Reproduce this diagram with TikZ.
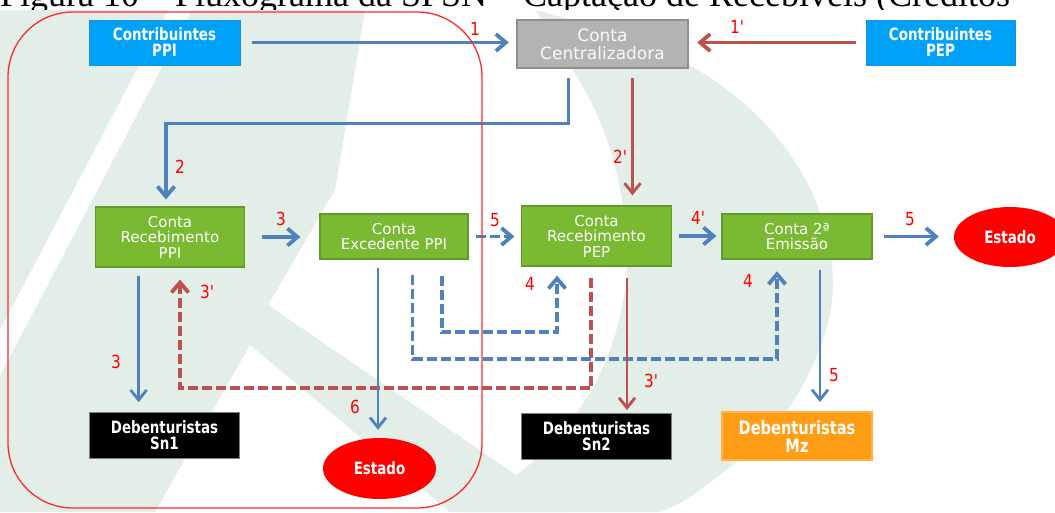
\documentclass[tikz,border=0pt]{standalone}
\usepackage{fontspec}
\usetikzlibrary{arrows.meta,shapes.geometric}
\newfontfamily\regfont{DejaVu Sans}
\newfontfamily\condfont[FakeStretch=0.79]{DejaVu Sans}
\newfontfamily\numfont[FakeStretch=0.85]{DejaVu Sans}
\newfontfamily\capfont{Liberation Serif}
\definecolor{flowblue}{HTML}{4F81BD}
\definecolor{flowred}{HTML}{C0504D}
\definecolor{numred}{HTML}{FF0000}
\definecolor{wmgreen}{RGB}{226,238,231}
\definecolor{boxblue}{HTML}{00A2F8}
\definecolor{boxblueline}{HTML}{1C8FDB}
\definecolor{boxgray}{HTML}{B3B3B3}
\definecolor{boxgrayline}{HTML}{8E8E8E}
\definecolor{boxgreen}{HTML}{7AB932}
\definecolor{boxgreenline}{HTML}{63992A}
\definecolor{boxorange}{HTML}{FF9E16}
\definecolor{boxorangeline}{HTML}{FFB347}
\definecolor{framered}{HTML}{FF2A2A}
\tikzset{
  box/.style={rectangle, inner sep=0pt, align=center, text=white},
  bluebox/.style={box, fill=boxblue, draw=boxblueline, line width=1pt,
    minimum width=150pt, minimum height=45pt,
    font=\condfont\bfseries\fontsize{17}{16}\selectfont},
  graybox/.style={box, fill=boxgray, draw=boxgrayline, line width=1.5pt,
    minimum width=171pt, minimum height=48pt, text=white!95!gray,
    font=\regfont\fontsize{17}{18.3}\selectfont},
  greenbox/.style={box, fill=boxgreen, draw=boxgreenline, line width=1.2pt,
    minimum width=149pt, minimum height=45pt,
    font=\regfont\fontsize{15}{15.5}\selectfont},
  blackbox/.style={box, fill=black, draw=black!50, line width=1pt,
    minimum width=150pt, minimum height=46pt,
    font=\condfont\bfseries\fontsize{17}{16}\selectfont},
  orangebox/.style={box, fill=boxorange, draw=boxorangeline, line width=1.5pt,
    minimum width=150pt, minimum height=48pt,
    font=\condfont\bfseries\fontsize{18.5}{18}\selectfont},
  redoval/.style={ellipse, fill=red, inner sep=0pt, text=white,
    minimum width=113pt, minimum height=61pt,
    font=\condfont\bfseries\fontsize{17}{16}\selectfont},
  num/.style={text=numred, inner sep=0pt, font=\numfont\fontsize{18}{18}\selectfont},
  flowb/.style={draw=flowblue, line width=3.8pt, -{Straight Barb[length=10pt,width=17pt]}},
  flowr/.style={draw=flowred, line width=3.8pt, -{Straight Barb[length=10pt,width=17pt]}},
  flowbthin/.style={draw=flowblue, line width=2.8pt, -{Straight Barb[length=10pt,width=16pt]}},
  flowrthin/.style={draw=flowred, line width=2.8pt, -{Straight Barb[length=10pt,width=16pt]}},
  dashpat/.style={dash pattern=on 10pt off 4pt},
}
\begin{document}
\begin{tikzpicture}[x=1pt,y=-1pt]
\useasboundingbox (0,0) rectangle (1055,512);
\fill[white] (0,0) rectangle (1055,512);
% caption line above the figure
\node[anchor=base west, inner sep=0pt, font=\capfont\fontsize{36}{40}\selectfont] (caption) at (0,6)
  {Figura 10 – Fluxograma da SPSN – Captação de Recebíveis (Créditos};
\fill[white] (0,10) rectangle (1055,512);
% pale logo in the background
\begin{scope}
  \clip (0,10) rectangle (1055,512);
  \fill[wmgreen] (0,10) -- (168,10) -- (0,330) -- cycle;
  \fill[wmgreen] (192,10) -- (365,10) -- (335,190) -- (268,305) -- (570,512)
     -- (450,512) -- (250,345) -- (155,512) -- (0,512) -- (0,376) -- cycle;
  \fill[wmgreen] plot[smooth, tension=0.6] coordinates
     {(535,10) (650,45) (740,100) (800,170) (830,250) (826,330) (780,420) (700,490) (660,512)}
     -- (465,512) -- plot[smooth, tension=0.6] coordinates
     {(465,512) (540,455) (597,380) (625,290) (622,200) (595,110) (535,10)} -- cycle;
\end{scope}
% accounts and parties
\node[bluebox, minimum width=151pt] (cPPI) at (164.5,42.5) {Contribuintes\\PPI};
\node[graybox] (cent) at (602.5,44) {Conta\\Centralizadora};
\node[bluebox, minimum width=149pt] (cPEP) at (940.5,42.5) {Contribuintes\\PEP};
\node[greenbox, minimum height=60pt] (rPPI) at (170,237) {Conta\\Recebimento\\PPI};
\node[greenbox, minimum width=148pt] (exc) at (394,236.5) {Conta\\Excedente PPI};
\node[greenbox, minimum width=150pt, minimum height=60pt] (rPEP) at (596.5,236) {Conta\\Recebimento\\PEP};
\node[greenbox, minimum width=150pt] (emi) at (797,236.5) {Conta 2ª\\Emissão};
\node[redoval, minimum width=112pt, minimum height=60pt] (estR) at (1010,237) {Estado};
\node[blackbox] (sn1) at (164.5,435) {Debenturistas\\Sn1};
\node[redoval] (estB) at (379.5,468.5) {Estado};
\node[blackbox] (sn2) at (596.5,436) {Debenturistas\\Sn2};
\node[orangebox] (mz) at (797,436) {Debenturistas\\Mz};
% flows
\draw[flowb, shorten <=11.5pt, shorten >=7.5pt] (cPPI.east) -- (cPPI.east -| cent.west);
\draw[flowr, shorten <=10pt, shorten >=8.5pt] (cPEP.west) -- (cPEP.west -| cent.east);
\draw[flowb, shorten <=9pt, shorten >=7pt] ([xshift=-34pt]cent.south) -- ++(0,54.7) -| ([xshift=-4pt]rPPI.north);
\draw[flowrthin, shorten <=9pt, shorten >=10pt] ([xshift=30pt]cent.south) -- ([xshift=30pt]cent.south |- rPEP.north);
\draw[flowb, shorten <=16.5pt, shorten >=19pt] (rPPI.east) -- (rPPI.east -| exc.west);
\draw[flowb, dashpat, shorten <=7pt, shorten >=6.5pt] (exc.east) -- (exc.east -| rPEP.west);
\draw[flowb, shorten <=6.5pt, shorten >=5pt] (rPEP.east) -- (rPEP.east -| emi.west);
\draw[flowb, shorten <=11pt, shorten >=15pt] (emi.east) -- (emi.east -| estR.west);
\draw[flowbthin, shorten <=8pt, shorten >=9.3pt] ([xshift=-31.4pt]rPPI.south) -- ([xshift=-31.4pt]rPPI.south |- sn1.north);
\draw[flowr, dashpat, shorten <=11pt, shorten >=12pt] ([xshift=-5.5pt]rPEP.south) -- ++(0,121.7) -| ([xshift=10pt]rPPI.south);
\draw[flowbthin, shorten <=8pt, shorten >=8pt] ([xshift=-16pt]exc.south) -- ([xshift=-16pt]exc.south |- estB.north);
\draw[flowb, dashpat, shorten <=16pt, shorten >=9pt] ([xshift=48pt]exc.south) -- ++(0,72.7) -| ([xshift=-39.5pt]rPEP.south);
\draw[flowb, dashpat, shorten <=15pt, shorten >=11.7pt] ([xshift=18.5pt]exc.south) -- ++(0,99) -| ([xshift=-20pt]emi.south);
\draw[flowrthin, shorten <=11pt, shorten >=2.5pt] ([xshift=30.5pt]rPEP.south) -- ([xshift=30.5pt]rPEP.south |- sn2.north);
\draw[flowbthin, shorten <=10pt, shorten >=9.3pt] ([xshift=23pt]emi.south) -- ([xshift=23pt]emi.south |- mz.north);
% step numbers
\node[num] (n1) at (475,29) {1};
\node[num] (n1p) at (737,27) {1'};
\node[num] (n2) at (180,167) {2};
\node[num] (n2p) at (620,157) {2'};
\node[num] (n3a) at (281,219) {3};
\node[num] (n5a) at (495,220) {5};
\node[num] (n4p) at (698,218) {4'};
\node[num] (n5b) at (910,219) {5};
\node[num] (n3b) at (116,362) {3};
\node[num] (n3p) at (207,292) {3'};
\node[num] (n6) at (355,407) {6};
\node[num] (n4a) at (530,284) {4};
\node[num] (n4b) at (748,281) {4};
\node[num] (n3q) at (651,381) {3'};
\node[num] (n5c) at (834,375) {5};
% PPI group frame
\draw[framered, line width=1.3pt, rounded corners=65pt] (8,12) rectangle (482,508);
\end{tikzpicture}
\end{document}
